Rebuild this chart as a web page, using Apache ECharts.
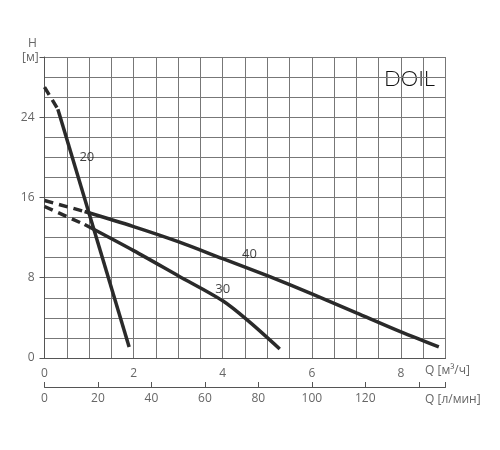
<!DOCTYPE html>
<html>
<head>
<meta charset="utf-8">
<script src="https://cdn.jsdelivr.net/npm/echarts@6/dist/echarts.min.js"></script>
<style>html,body{margin:0;padding:0;background:#fff}#chart{width:500px;height:450px}</style>
</head>
<body>
<div id="chart"></div>
<script>
// данные кривых (Q м3/ч, H м)
var c20Dash = [[0, 27.0], [0.3, 24.8]];
var c20 = [[0.3, 24.8], [1.9, 1.1]];
var c40Dash = [[0, 15.7], [0.9, 14.6]];
var c40 = [[0.9, 14.6], [2, 13.1], [3, 11.6], [4, 9.9], [5, 8.2], [6, 6.4], [7, 4.5], [8, 2.6], [8.85, 1.1]];
var c30Dash = [[0, 15.1], [0.9, 13.3]];
var c30 = [[0.9, 13.3], [2, 10.7], [3, 8.2], [4, 5.7], [4.6, 3.6], [5.28, 0.9]];
var curveLabels = [['20', 0.95, 20], ['40', 4.6, 10.3], ['30', 4.0, 6.8]];
var yTicks = [0, 8, 16, 24];

var lineCol = '#2a2a2a';
var txtCol = '#666';
var font = 'Open Sans';

function curve(data, dashed, smooth) {
    return {
        type: 'line', data: data, smooth: smooth, symbol: 'none', silent: true,
        xAxisIndex: 0, yAxisIndex: 0,
        lineStyle: {color: lineCol, width: 3.5, type: dashed ? [9, 6] : 'solid'}
    };
}

var chart = echarts.init(document.getElementById('chart'));
var series = [
    curve(c20Dash, true, false), curve(c20, false, false),
    curve(c40Dash, true, false), curve(c40, false, 0.3),
    curve(c30Dash, true, false), curve(c30, false, 0.3)
];
// подписи кривых
series.push({
    type: 'scatter', symbolSize: 0, silent: true, xAxisIndex: 0, yAxisIndex: 0,
    data: curveLabels.map(function (l) { return {value: [l[1], l[2]], name: l[0]}; }),
    label: {show: true, position: 'inside', formatter: '{b}', color: '#111', fontSize: 13, fontFamily: font}
});

chart.setOption({
    animation: false,
    grid: {left: 44.5, top: 57, width: 401, height: 301},
    xAxis: [
        {type: 'value', min: 0, max: 9, interval: 0.5,
            axisLine: {onZero: false, lineStyle: {color: '#555'}}, axisTick: {show: false},
            splitLine: {lineStyle: {color: '#777', width: 1}},
            axisLabel: {color: txtCol, fontSize: 12, fontFamily: font, margin: 10,
                formatter: function (v) { return (v % 2 === 0 && v < 9) ? v : ''; }}},
        {type: 'value', min: 0, max: 150, interval: 20, position: 'bottom', offset: 29,
            axisLine: {show: true, onZero: false, lineStyle: {color: '#555'}},
            axisTick: {show: true, inside: true, length: 5, lineStyle: {color: '#555'}},
            splitLine: {show: false},
            axisLabel: {color: txtCol, fontSize: 12, fontFamily: font, margin: 6,
                formatter: function (v) { return v <= 120 ? v : ''; }}}
    ],
    yAxis: [
        {type: 'value', min: 0, max: 30, interval: 2,
            axisLine: {show: true, lineStyle: {color: '#555'}}, axisTick: {show: false},
            splitLine: {lineStyle: {color: '#777', width: 1}}, axisLabel: {show: false}},
        {type: 'value', min: 0, max: 30, interval: 8, position: 'left',
            axisLine: {show: false}, axisTick: {show: true, length: 5, lineStyle: {color: '#555'}},
            splitLine: {show: false},
            axisLabel: {color: txtCol, fontSize: 12, fontFamily: font, margin: 10,
                formatter: function (v) { return yTicks.indexOf(v) >= 0 ? v : ''; }}}
    ],
    graphic: [
        {type: 'text', left: 28, top: 38, style: {text: 'H', fill: txtCol, font: '12px "Open Sans"'}},
        {type: 'text', left: 22, top: 52, style: {text: '[м]', fill: txtCol, font: '12px "Open Sans"'}},
        {type: 'text', left: 425, top: 365, style: {text: 'Q [м³/ч]', fill: txtCol, font: '12px "Open Sans"'}},
        {type: 'text', left: 425, top: 394, style: {text: 'Q [л/мин]', fill: txtCol, font: '12px "Open Sans"'}},
        {type: 'text', left: 384, top: 68, style: {text: 'DOIL', fill: '#111', font: '300 22px "Lato"'}}
    ],
    series: series
});
</script>
</body>
</html>
